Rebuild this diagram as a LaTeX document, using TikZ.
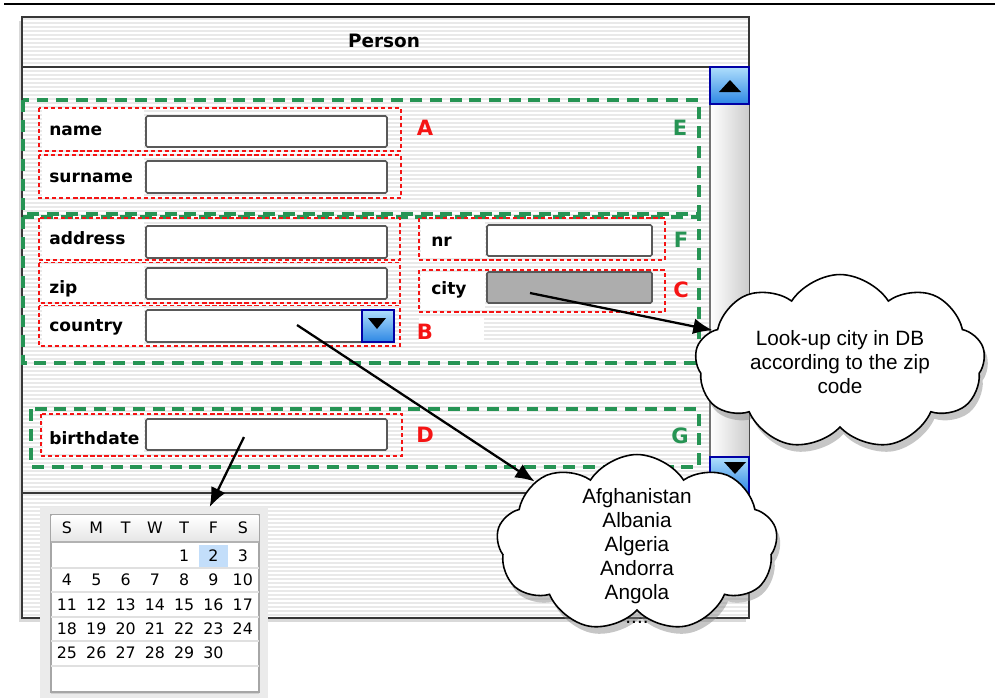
\documentclass[tikz,border=0pt]{standalone}
\usepackage{fontspec}
\setmainfont{Liberation Sans}
\newfontfamily\guifont{DejaVu Sans}
\usetikzlibrary{positioning,shapes.symbols,shadows,arrows.meta}

\definecolor{groupgreen}{RGB}{38,148,84}
\definecolor{fieldred}{RGB}{245,20,20}
\definecolor{pinstripe}{RGB}{233,233,233}
\definecolor{aquatop}{RGB}{175,222,252}
\definecolor{aquabottom}{RGB}{45,135,228}
\definecolor{pickblue}{RGB}{195,222,250}
\definecolor{framegray}{RGB}{55,55,55}

\tikzset{
  fieldbox/.style={draw=fieldred, line width=0.6pt, dash pattern=on 2.4pt off 1.6pt},
  groupbox/.style={draw=groupgreen, line width=2pt, dash pattern=on 6.8pt off 4.4pt},
  entry/.style={draw=black!65, fill=white, line width=0.9pt, rounded corners=0.8pt},
  caption/.style={font=\guifont\bfseries\fontsize{9.7}{11}\selectfont, anchor=west, inner sep=0pt, yshift=-1.1pt},
  fieldtag/.style={text=fieldred, font=\guifont\bfseries\fontsize{12}{14}\selectfont, inner sep=0pt},
  grouptag/.style={text=groupgreen, font=\guifont\bfseries\fontsize{12}{14}\selectfont, inner sep=0pt},
  aquabutton/.style={draw=blue!65!black, line width=0.6pt, top color=aquatop, bottom color=aquabottom},
  bubble/.style={cloud, cloud puffs=9, cloud puff arc=115, cloud ignores aspect, draw, line width=0.9pt, fill=white,
    drop shadow={shadow xshift=2pt, shadow yshift=-4pt, opacity=0.45}, align=center,
    font=\fontsize{11.8}{13.6}\selectfont, inner sep=0pt},
  pointer/.style={-{Latex[length=11pt,width=9pt]}, line width=1.3pt},
  calnum/.style={font=\guifont\fontsize{9}{10}\selectfont, inner sep=0pt}
}

\begin{document}
\begin{tikzpicture}[x=0.02cm, y=-0.02cm]
\useasboundingbox (0,0) rectangle (995,698);

% Drawing top rule
\draw [line width=1.1pt] (4,4) -- (995,4);%

% Drawing window Person
\draw [draw=framegray, line width=0.9pt, fill=white, drop shadow={shadow xshift=-1.5pt, shadow yshift=-2pt, opacity=0.3}] (22,17) rectangle (749,618);%
\foreach \y in {19,23,...,615}
  \draw [pinstripe, line width=1.1pt] (23,\y) -- (748,\y);%
\draw [draw=framegray, line width=0.9pt] (22,17) rectangle (749,618);%
\draw [framegray, line width=1pt] (22,67) -- (749,67);%
\draw [framegray, line width=1pt] (22,493) -- (710,493);%
\node [font=\guifont\bfseries\fontsize{10.5}{12}\selectfont] (title) at (384,41) {Person};%

% Drawing scroll bar
\shade [left color=white, right color=black!20] (710,104) rectangle (749,457);%
\draw [black!55, line width=0.6pt] (710,67) -- (710,493);%
\draw [aquabutton] (710,67) rectangle (749,104);%
\fill (730,80) -- (741,92) -- (719,92) -- cycle;%
\draw [aquabutton] (710,457) rectangle (749,493);%
\fill (724,462) -- (746,462) -- (735,474) -- cycle;%

% Drawing label panels
\fill [white] (42,110) rectangle (144,149);%
\fill [white] (42,157) rectangle (144,196);%
\fill [white] (42,220) rectangle (144,259);%
\fill [white] (42,264) rectangle (144,302);%
\fill [white] (42,307) rectangle (144,344);%
\fill [white] (43,416) rectangle (144,454);%
\fill [white] (421,220) rectangle (485,258);%
\fill [white] (421,272) rectangle (485,310);%
\fill [white] (419,318) rectangle (484,340);%

% Drawing group E
\draw [groupbox] (23,100) rectangle (699,214);%
\node [grouptag] (tagE) at (680,128) {E};%

% Drawing group F
\draw [groupbox] (23,217) rectangle (699,363);%
\node [grouptag] (tagF) at (681,240) {F};%

% Drawing group G
\draw [groupbox] (31,409) rectangle (699,467);%
\node [grouptag] (tagG) at (680,436) {G};%

% Drawing fields name and surname
\draw [fieldbox] (39,108) rectangle (401,151);%
\draw [entry] (146,116) rectangle (387,147);%
\node [caption] (name) at (49,129) {name};%
\draw [fieldbox] (39,155) rectangle (401,198);%
\draw [entry] (146,161) rectangle (387,193);%
\node [caption] (surname) at (49,176) {surname};%
\node [fieldtag] (tagA) at (425,128) {A};%

% Drawing fields address, zip and country
\draw [fieldbox] (39,218) rectangle (400,260);%
\draw [entry] (146,226) rectangle (387,258);%
\node [caption] (address) at (49,236) {address};%
\draw [fieldbox] (39,262.5) rectangle (400,303);%
\draw [entry] (146,268) rectangle (387,299);%
\node [caption] (zip) at (49,287) {zip};%
\draw [fieldbox] (39,305.5) rectangle (400,346);%
\draw [entry] (146,310) rectangle (394,342);%
\draw [aquabutton] (362,310) rectangle (394,342);%
\fill (368,318) -- (386,318) -- (377,329) -- cycle;%
\node [caption] (country) at (49,325) {country};%
\node [fieldtag] (tagB) at (425,332) {B};%

% Drawing fields nr and city
\draw [fieldbox] (419,218) rectangle (665,260);%
\draw [entry] (487,225) rectangle (652,256);%
\node [caption] (nr) at (431,240) {nr};%
\draw [fieldbox] (419,270) rectangle (665,312);%
\draw [entry, fill=black!32] (487,272) rectangle (652,303);%
\node [caption] (city) at (431,288) {city};%
\node [fieldtag] (tagC) at (681,290) {C};%

% Drawing field birthdate
\draw [fieldbox] (41,414) rectangle (402,456);%
\draw [entry] (146,419) rectangle (387,450);%
\node [caption] (birthdate) at (49,436) {birthdate};%
\node [fieldtag] (tagD) at (425,435) {D};%

% Drawing calendar
\node [fill=black!8, minimum width=4.56cm, minimum height=3.82cm, inner sep=0pt, anchor=north west] (calendar) at (40,507) {};%
\draw [black!35, fill=white, line width=0.6pt, drop shadow={shadow xshift=0pt, shadow yshift=-1pt, opacity=0.25}] (51,515) rectangle (259,692);%
\shade [top color=white, bottom color=black!10] (51.5,515.5) rectangle (258.5,542);%
\draw [black!30, line width=0.6pt] (51,542) -- (259,542);%
\foreach \y in {568,592,617,641,666}
  \draw [black!12, line width=0.6pt] (51,\y) -- (259,\y);%
\fill [pickblue] (199,545) rectangle (228,567);%
\foreach \w [count=\i from 0] in {S,M,T,W,T,F,S}
  \node [calnum] at ({67+29.3*\i},528) {\w};%
\foreach \d in {1,...,30} {
  \pgfmathtruncatemacro\col{mod(\d+3,7)}
  \pgfmathtruncatemacro\row{div(\d+3,7)}
  \node [calnum] at ({67+29.3*\col},{556+24.2*\row}) {\d};%
}

% Drawing cloud for city look-up
\node [bubble, minimum width=5.8cm, minimum height=3.5cm] (lookup) at (840,362) {Look-up city in DB\\according to the zip\\code};%

% Drawing cloud for country list
\node [bubble, minimum width=5.62cm, minimum height=3.54cm] (countries) at (637,543) {};%
\node [align=center, font=\fontsize{11.8}{13.6}\selectfont, inner sep=0pt] (countrylist) at (637,556) {Afghanistan\\Albania\\Algeria\\Andorra\\Angola\\....};%

% Drawing pointers
\coordinate (citypick) at (530,293);%
\coordinate (countrypick) at (297,325);%
\coordinate (birthpick) at (244,437);%
\draw [pointer] (citypick) -- (lookup.166);%
\draw [pointer] (countrypick) -- (countries.149);%
\draw [pointer] (birthpick) -- (calendar.60);%
\end{tikzpicture}
\end{document}
